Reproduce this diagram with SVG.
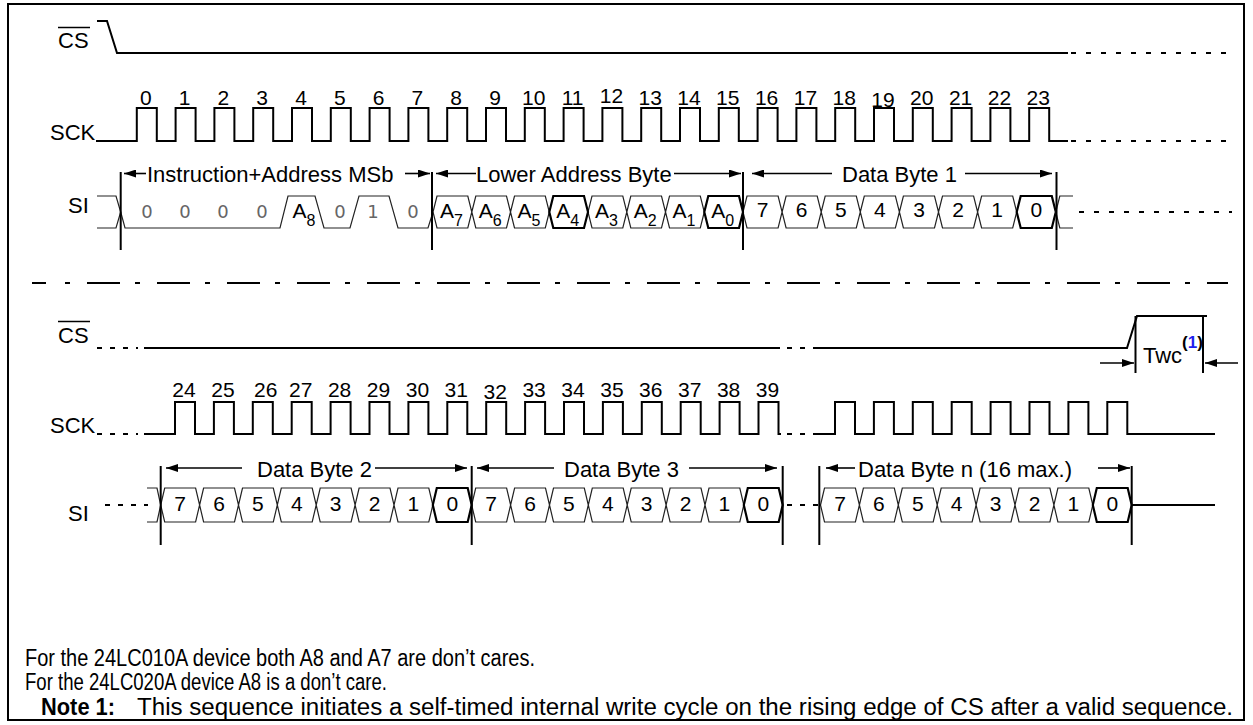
<svg xmlns="http://www.w3.org/2000/svg" width="1253" height="725" viewBox="0 0 1253 725">
<defs>
<style>
.sig{fill:none;stroke:#000;stroke-width:2}
.dsh{fill:none;stroke:#000;stroke-width:2;stroke-dasharray:5 8}
.dsh2{fill:none;stroke:#000;stroke-width:2;stroke-dasharray:5 10}
.bus{fill:none;stroke:#222;stroke-width:1.2}
.busk{fill:none;stroke:#000;stroke-width:2.2}
.bar{stroke:#000;stroke-width:2}
.arr{stroke:#000;stroke-width:1.6;fill:none;marker-end:url(#ah)}
.t{font-family:"Liberation Sans",Arial,Helvetica,sans-serif;fill:#000}
.lbl{font-size:22px}
.num{font-size:21px;text-anchor:middle}
.bit{font-size:21px;text-anchor:middle}
.sub{font-size:16px}
.g{font-family:"DejaVu Sans",sans-serif;font-size:18px;fill:#666;text-anchor:middle}
.note{font-size:23px}
</style>
<marker id="ah" viewBox="0 0 12 8" refX="12" refY="4" markerWidth="12" markerHeight="8" markerUnits="userSpaceOnUse" orient="auto">
<path d="M0,0 L12,4 L0,8 Z" fill="#000"/>
</marker>
</defs>
<rect x="8" y="4" width="1236" height="716" fill="#fff" stroke="#000" stroke-width="2"/>

<g id="cs1">
<text class="t lbl" x="58" y="48">CS</text>
<line x1="58" y1="27.5" x2="90" y2="27.5" stroke="#000" stroke-width="1.5"/>
<path class="sig" d="M97,21 H107 L117,53 H1068"/>
<line class="dsh2" x1="1071" y1="53" x2="1232" y2="53"/>
</g>

<g id="sck1">
<text class="t lbl" x="50" y="140">SCK</text>
<path class="sig" d="M96,141 H136.8 V108 H156.8 V141 H175.6 V108 H195.6 V141 H214.4 V108 H234.4 V141 H253.2 V108 H273.2 V141 H292 V108 H312 V141 H330.8 V108 H350.8 V141 H369.6 V108 H389.6 V141 H408.4 V108 H428.4 V141 H447.2 V108 H467.2 V141 H486 V108 H506 V141 H524.8 V108 H544.8 V141 H563.6 V108 H583.6 V141 H602.4 V108 H622.4 V141 H641.2 V108 H661.2 V141 H680 V108 H700 V141 H718.8 V108 H738.8 V141 H757.6 V108 H777.6 V141 H796.4 V108 H816.4 V141 H835.2 V108 H855.2 V141 H874 V108 H894 V141 H912.8 V108 H932.8 V141 H951.6 V108 H971.6 V141 H990.4 V108 H1010.4 V141 H1029.2 V108 H1049.2 V141 H1068"/>
<line class="dsh2" x1="1071" y1="141" x2="1232" y2="141"/>
<g class="t num">
<text x="145.8" y="105">0</text><text x="184.6" y="105">1</text><text x="223.4" y="105">2</text><text x="262.2" y="105">3</text>
<text x="301" y="105">4</text><text x="339.8" y="105">5</text><text x="378.6" y="105">6</text><text x="417.4" y="105">7</text>
<text x="456.2" y="105">8</text><text x="495" y="105">9</text><text x="533.8" y="105">10</text><text x="572.6" y="105">11</text>
<text x="611.4" y="103">12</text><text x="650.2" y="105">13</text><text x="689" y="105">14</text><text x="727.8" y="105">15</text>
<text x="766.6" y="105">16</text><text x="805.4" y="105">17</text><text x="844.2" y="105">18</text><text x="883" y="107">19</text>
<text x="921.8" y="105">20</text><text x="960.6" y="105">21</text><text x="999.4" y="105">22</text><text x="1038.2" y="105">23</text>
</g>
</g>

<g id="si1">
<text class="t lbl" x="68" y="213">SI</text>
<path class="bus" d="M97,196 H116 L120.7,212 L116,228 H97"/>
<path class="bus" d="M120.7,212 L125,228 H280 L288,196 H315 L324,228 H350 L359,196 H389 L398,228 H428 L433,212"/>
<g class="g">
<text x="147" y="218">0</text><text x="185" y="218">0</text><text x="223" y="218">0</text><text x="262" y="218">0</text>
<text x="340" y="218">0</text><text x="373" y="218">1</text><text x="413" y="218">0</text>
</g>
<text class="t bit" x="304" y="218">A<tspan class="sub" dy="8">8</tspan></text>
<path class="bus" d="M433,212 L437,196 H467.8 L471.8,212 L467.8,228 H437 Z M471.8,212 L475.8,196 H506.5 L510.5,212 L506.5,228 H475.8 Z M510.5,212 L514.5,196 H545.3 L549.3,212 L545.3,228 H514.5 Z M588,212 L592,196 H622.8 L626.8,212 L622.8,228 H592 Z M626.8,212 L630.8,196 H661.5 L665.5,212 L661.5,228 H630.8 Z M665.5,212 L669.5,196 H700.3 L704.3,212 L700.3,228 H669.5 Z"/>
<path class="busk" d="M549.3,212 L553.3,196 H584 L588,212 L584,228 H553.3 Z M704.3,212 L708.3,196 H739 L743,212 L739,228 H708.3 Z"/>
<g class="t bit">
<text x="451.5" y="218">A<tspan class="sub" dy="8">7</tspan></text>
<text x="490.3" y="218">A<tspan class="sub" dy="8">6</tspan></text>
<text x="529" y="218">A<tspan class="sub" dy="8">5</tspan></text>
<text x="567.8" y="218">A<tspan class="sub" dy="8">4</tspan></text>
<text x="606.5" y="218">A<tspan class="sub" dy="8">3</tspan></text>
<text x="645.3" y="218">A<tspan class="sub" dy="8">2</tspan></text>
<text x="684" y="218">A<tspan class="sub" dy="8">1</tspan></text>
<text x="722.8" y="218">A<tspan class="sub" dy="8">0</tspan></text>
</g>
<path class="bus" d="M743,212 L747,196 H778.1 L782.1,212 L778.1,228 H747 Z M782.1,212 L786.1,196 H817.2 L821.2,212 L817.2,228 H786.1 Z M821.2,212 L825.2,196 H856.3 L860.3,212 L856.3,228 H825.2 Z M860.3,212 L864.3,196 H895.4 L899.4,212 L895.4,228 H864.3 Z M899.4,212 L903.4,196 H934.5 L938.5,212 L934.5,228 H903.4 Z M938.5,212 L942.5,196 H973.6 L977.6,212 L973.6,228 H942.5 Z M977.6,212 L981.6,196 H1012.7 L1016.7,212 L1012.7,228 H981.6 Z"/>
<path class="busk" d="M1016.7,212 L1020.7,196 H1051.8 L1055.8,212 L1051.8,228 H1020.7 Z"/>
<path class="bus" d="M1055.8,212 L1059.8,196 H1073 M1055.8,212 L1059.8,228 H1073"/>
<line class="dsh2" x1="1079" y1="212" x2="1232" y2="212"/>
<g class="t bit">
<text x="762.6" y="217">7</text><text x="801.7" y="217">6</text><text x="840.8" y="217">5</text><text x="879.9" y="217">4</text>
<text x="919" y="217">3</text><text x="958.1" y="217">2</text><text x="997.2" y="217">1</text><text x="1036.3" y="217">0</text>
</g>
</g>

<g id="bytes1">
<line class="bar" x1="120.7" y1="172" x2="120.7" y2="250"/>
<line class="bar" x1="432" y1="172" x2="432" y2="250"/>
<line class="bar" x1="743" y1="172" x2="743" y2="250"/>
<line class="bar" x1="1056.5" y1="172" x2="1056.5" y2="250"/>
<text class="t lbl" x="147" y="182">Instruction+Address MSb</text>
<text class="t lbl" x="476" y="182">Lower Address Byte</text>
<text class="t lbl" x="842" y="182">Data Byte 1</text>
</g>

<line id="separator" x1="32" y1="283" x2="46" y2="283" stroke="#000" stroke-width="2"/>
<line x1="65" y1="283" x2="1228" y2="283" stroke="#000" stroke-width="2" stroke-dasharray="5 17 33 15"/>

<g id="cs2">
<text class="t lbl" x="58" y="343">CS</text>
<line x1="58" y1="321.5" x2="90" y2="321.5" stroke="#000" stroke-width="1.5"/>
<line class="dsh" x1="97" y1="348" x2="138" y2="348"/>
<path class="sig" d="M144,348 H780"/>
<line class="dsh" x1="787" y1="348" x2="812" y2="348"/>
<path class="sig" d="M813,348 H1127 L1137,316 H1207"/>
</g>

<g id="twc">
<line class="bar" x1="1135.5" y1="316" x2="1135.5" y2="373"/>
<line class="bar" x1="1203" y1="316" x2="1203" y2="373"/>
<text class="t lbl" x="1143" y="363">Twc</text>
<text class="t" x="1182" y="348" font-size="17" font-weight="bold">(<tspan fill="#1f1fee">1</tspan>)</text>
</g>

<g id="sck2">
<text class="t lbl" x="50" y="433">SCK</text>
<line class="dsh" x1="97" y1="434" x2="138" y2="434"/>
<path class="sig" d="M144,434 H175 V402 H195 V434 H213.9 V402 H233.9 V434 H252.8 V402 H272.8 V434 H291.7 V402 H311.7 V434 H330.6 V402 H350.6 V434 H369.5 V402 H389.5 V434 H408.4 V402 H428.4 V434 H447.3 V402 H467.3 V434 H486.2 V402 H506.2 V434 H525.1 V402 H545.1 V434 H564 V402 H584 V434 H602.9 V402 H622.9 V434 H641.8 V402 H661.8 V434 H680.7 V402 H700.7 V434 H719.6 V402 H739.6 V434 H758.5 V402 H778.5 V434 H781"/>
<line class="dsh" x1="787" y1="434" x2="812" y2="434"/>
<path class="sig" d="M813,434 H835 V402 H855 V434 H873.9 V402 H893.9 V434 H912.8 V402 H932.8 V434 H951.7 V402 H971.7 V434 H990.6 V402 H1010.6 V434 H1029.5 V402 H1049.5 V434 H1068.4 V402 H1088.4 V434 H1107.3 V402 H1127.3 V434 H1215"/>
<g class="t num">
<text x="184" y="397">24</text><text x="222.9" y="397">25</text><text x="265.8" y="397">26</text><text x="300.7" y="397">27</text>
<text x="339.6" y="397">28</text><text x="378.5" y="397">29</text><text x="417.4" y="397">30</text><text x="456.3" y="397">31</text>
<text x="495.2" y="399">32</text><text x="534.1" y="397">33</text><text x="573" y="397">34</text><text x="611.9" y="397">35</text>
<text x="650.8" y="397">36</text><text x="689.7" y="397">37</text><text x="728.6" y="397">38</text><text x="767.5" y="397">39</text>
</g>
</g>

<g id="si2">
<text class="t lbl" x="68" y="521">SI</text>
<line class="dsh" x1="105" y1="505" x2="148" y2="505"/>
<path class="bus" d="M147,488 H157 L160.7,505 L157,522 H147"/>
<path class="bus" d="M160.7,505 L164.7,488 H195.6 L199.6,505 L195.6,522 H164.7 Z M199.6,505 L203.6,488 H234.5 L238.5,505 L234.5,522 H203.6 Z M238.5,505 L242.5,488 H273.3 L277.3,505 L273.3,522 H242.5 Z M277.3,505 L281.3,488 H312.2 L316.2,505 L312.2,522 H281.3 Z M316.2,505 L320.2,488 H351.1 L355.1,505 L351.1,522 H320.2 Z M355.1,505 L359.1,488 H390 L394,505 L390,522 H359.1 Z M394,505 L398,488 H428.8 L432.8,505 L428.8,522 H398 Z"/>
<path class="busk" d="M432.8,505 L436.8,488 H467.7 L471.7,505 L467.7,522 H436.8 Z"/>
<path class="bus" d="M471.7,505 L475.7,488 H506.6 L510.6,505 L506.6,522 H475.7 Z M510.6,505 L514.6,488 H545.5 L549.5,505 L545.5,522 H514.6 Z M549.5,505 L553.5,488 H584.3 L588.3,505 L584.3,522 H553.5 Z M588.3,505 L592.3,488 H623.2 L627.2,505 L623.2,522 H592.3 Z M627.2,505 L631.2,488 H662.1 L666.1,505 L662.1,522 H631.2 Z M666.1,505 L670.1,488 H701 L705,505 L701,522 H670.1 Z M705,505 L709,488 H739.8 L743.8,505 L739.8,522 H709 Z"/>
<path class="busk" d="M743.8,505 L747.8,488 H778.7 L782.7,505 L778.7,522 H747.8 Z"/>
<line class="dsh" x1="787" y1="505" x2="818" y2="505"/>
<path class="bus" d="M820.5,505 L824.5,488 H855.4 L859.4,505 L855.4,522 H824.5 Z M859.4,505 L863.4,488 H894.3 L898.3,505 L894.3,522 H863.4 Z M898.3,505 L902.3,488 H933.2 L937.2,505 L933.2,522 H902.3 Z M937.2,505 L941.2,488 H972.1 L976.1,505 L972.1,522 H941.2 Z M976.1,505 L980.1,488 H1011 L1015,505 L1011,522 H980.1 Z M1015,505 L1019,488 H1049.9 L1053.9,505 L1049.9,522 H1019 Z M1053.9,505 L1057.9,488 H1088.8 L1092.8,505 L1088.8,522 H1057.9 Z"/>
<path class="busk" d="M1092.8,505 L1096.8,488 H1127.7 L1131.7,505 L1127.7,522 H1096.8 Z"/>
<path class="sig" d="M1132,505 H1215"/>
<g class="t bit">
<text x="180.2" y="511">7</text><text x="219.1" y="511">6</text><text x="257.9" y="511">5</text><text x="296.8" y="511">4</text>
<text x="335.7" y="511">3</text><text x="374.6" y="511">2</text><text x="413.4" y="511">1</text><text x="452.3" y="511">0</text>
<text x="491.2" y="511">7</text><text x="530.1" y="511">6</text><text x="568.9" y="511">5</text><text x="607.8" y="511">4</text>
<text x="646.7" y="511">3</text><text x="685.6" y="511">2</text><text x="724.4" y="511">1</text><text x="763.3" y="511">0</text>
<text x="840" y="511">7</text><text x="878.9" y="511">6</text><text x="917.8" y="511">5</text><text x="956.7" y="511">4</text>
<text x="995.6" y="511">3</text><text x="1034.5" y="511">2</text><text x="1073.4" y="511">1</text><text x="1112.3" y="511">0</text>
</g>
</g>

<g id="bytes2">
<line class="bar" x1="160.7" y1="466" x2="160.7" y2="545"/>
<line class="bar" x1="471.7" y1="466" x2="471.7" y2="545"/>
<line class="bar" x1="782.7" y1="466" x2="782.7" y2="545"/>
<line class="bar" x1="819.3" y1="466" x2="819.3" y2="545"/>
<line class="bar" x1="1131.7" y1="466" x2="1131.7" y2="545"/>
<text class="t lbl" x="257" y="477">Data Byte 2</text>
<text class="t lbl" x="564" y="477">Data Byte 3</text>
<text class="t lbl" x="858" y="477">Data Byte n (16 max.)</text>
</g>

<g id="connectors">
<line class="arr" x1="146" y1="173.5" x2="124" y2="173.5"/>
<line class="arr" x1="405" y1="173.5" x2="430" y2="173.5"/>
<line class="arr" x1="476" y1="173.5" x2="436" y2="173.5"/>
<line class="arr" x1="674" y1="173.5" x2="741" y2="173.5"/>
<line class="arr" x1="832" y1="173.5" x2="752" y2="173.5"/>
<line class="arr" x1="965" y1="173.5" x2="1052" y2="173.5"/>
<line class="arr" x1="242" y1="468" x2="166" y2="468"/>
<line class="arr" x1="375" y1="468" x2="467" y2="468"/>
<line class="arr" x1="554" y1="468" x2="477" y2="468"/>
<line class="arr" x1="689" y1="468" x2="777" y2="468"/>
<line class="arr" x1="855" y1="468" x2="826" y2="468"/>
<line class="arr" x1="1098" y1="468" x2="1130" y2="468"/>
<line class="arr" x1="1100" y1="363" x2="1134" y2="363"/>
<line class="arr" x1="1238" y1="363" x2="1205" y2="363"/>
</g>

<g id="notes">
<text class="t note" x="25" y="666" textLength="510" lengthAdjust="spacingAndGlyphs">For the 24LC010A device both A8 and A7 are don’t cares.</text>
<text class="t note" x="25" y="690" textLength="362" lengthAdjust="spacingAndGlyphs">For the 24LC020A device A8 is a don’t care.</text>
<text class="t note" x="41" y="715" font-weight="bold" textLength="74" lengthAdjust="spacingAndGlyphs">Note 1:</text>
<text class="t note" x="137" y="715" textLength="1096" lengthAdjust="spacingAndGlyphs">This sequence initiates a self-timed internal write cycle on the rising edge of CS after a valid sequence.</text>
</g>
</svg>
